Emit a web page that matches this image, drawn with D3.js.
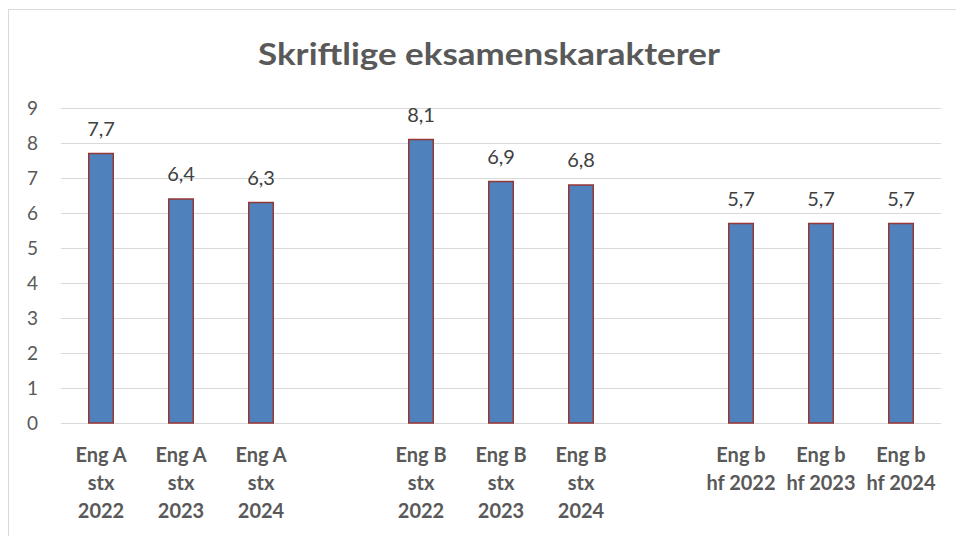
<!DOCTYPE html>
<html><head><meta charset="utf-8">
<script src="https://cdn.jsdelivr.net/npm/d3@7"></script>
<style>html,body{margin:0;padding:0;background:#fff;}svg{display:block;font-family:Lato,"Open Sans",sans-serif;}</style>
</head><body>
<svg id="chart" width="956" height="536"></svg>
<script>
const title = "Skriftlige eksamenskarakterer";
const categories = ["Eng A|stx|2022","Eng A|stx|2023","Eng A|stx|2024","",
  "Eng B|stx|2022","Eng B|stx|2023","Eng B|stx|2024","",
  "Eng b|hf 2022","Eng b|hf 2023","Eng b|hf 2024"];
const values = [7.7, 6.4, 6.3, null, 8.1, 6.9, 6.8, null, 5.7, 5.7, 5.7];
const yTicks = [0,1,2,3,4,5,6,7,8,9];

const svg = d3.select("#chart");
const W = 956, H = 536;
const m = {left: 61, right: 15, top: 108, bottom: 113};

svg.append("rect").attr("x", 8.5).attr("y", 9.5).attr("width", 1000).attr("height", 600)
  .attr("fill", "#fff").attr("stroke", "#d9d9d9").attr("stroke-width", 1);

const x = d3.scaleBand().domain(d3.range(categories.length))
  .range([m.left, W - m.right]).paddingInner(0.675).paddingOuter(0.3375);
const y = d3.scaleLinear().domain([0, 9]).range([H - m.bottom, m.top]);

svg.append("text").attr("x", 489).attr("y", 65).attr("text-anchor", "middle")
  .attr("font-size", 30).attr("font-weight", "bold").attr("fill", "#595959")
  .attr("textLength", 462).attr("lengthAdjust", "spacingAndGlyphs").text(title);

// gridlines
const yAxis = svg.append("g").attr("transform", `translate(${m.left},0)`)
  .call(d3.axisLeft(y).tickValues(yTicks).tickSize(-(W - m.right - m.left)).tickPadding(23));
yAxis.select(".domain").remove();
yAxis.selectAll(".tick line").attr("stroke", "#d9d9d9").attr("stroke-width", 1);
yAxis.selectAll(".tick text").attr("font-size", 19).attr("fill", "#595959")
  .attr("font-family", "Lato, 'Open Sans', sans-serif");

// bars
svg.append("g").selectAll("rect").data(values.map((v,i)=>({v,i})).filter(d=>d.v!==null))
  .join("rect")
  .attr("x", d => x(d.i) + 0.75).attr("width", x.bandwidth() - 1.5)
  .attr("y", d => y(d.v)).attr("height", d => y(0) - y(d.v))
  .attr("fill", "#4f81bd").attr("stroke", "#953735").attr("stroke-width", 1.5);

const fmt = v => d3.format(".1f")(v).replace(".", ",");
svg.append("g").selectAll("text").data(values.map((v,i)=>({v,i})).filter(d=>d.v!==null))
  .join("text")
  .attr("x", d => x(d.i) + x.bandwidth()/2).attr("y", d => y(d.v) - 18)
  .attr("text-anchor", "middle").attr("font-size", 20).attr("fill", "#404040")
  .text(d => fmt(d.v));

// x axis labels
const xAxis = svg.append("g").attr("transform", `translate(0,${H - m.bottom})`)
  .call(d3.axisBottom(x).tickSize(0).tickFormat(i => categories[i]));
xAxis.select(".domain").remove();
xAxis.selectAll(".tick text").each(function(i) {
  const t = d3.select(this);
  const lines = categories[i] ? categories[i].split("|") : [];
  t.text(null).attr("font-size", 20).attr("font-weight", "bold").attr("fill", "#595959")
    .attr("font-family", "Lato, 'Open Sans', sans-serif").attr("y", 0).attr("dy", null);
  lines.forEach((ln, k) => {
    t.append("tspan").attr("x", 0).attr("y", 39 + k * 28).text(ln);
  });
});
</script>
</body></html>
